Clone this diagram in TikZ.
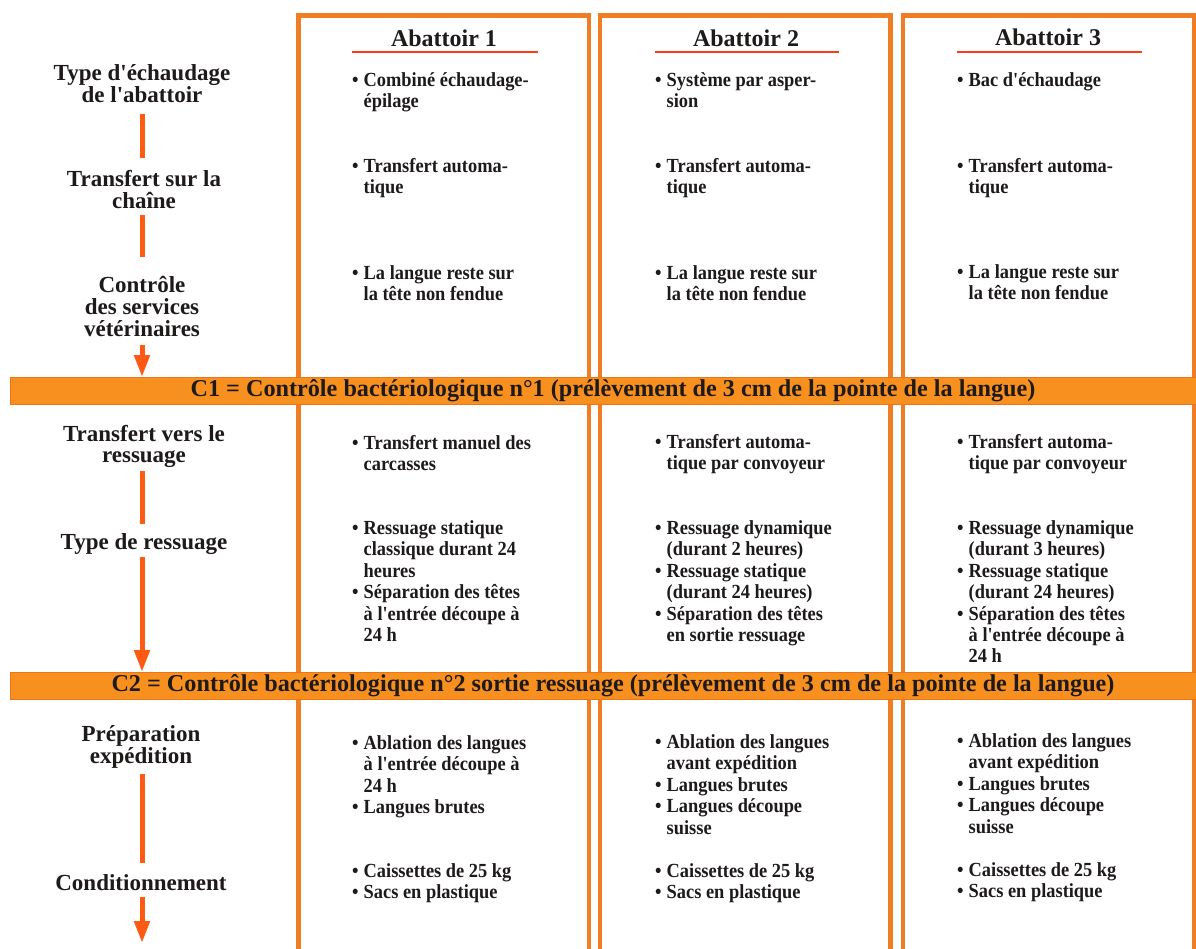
\documentclass[tikz,border=0pt]{standalone}
\usepackage{fontspec}
\setmainfont{Liberation Serif}
\newfontfamily\labfont{Liberation Serif}
\newfontfamily\bodyfont[FakeStretch=0.92]{Liberation Serif}
\usetikzlibrary{arrows.meta}
\definecolor{colbox}{HTML}{F07D23}
\definecolor{barfill}{HTML}{F7901E}
\definecolor{bardraw}{HTML}{EC7419}
\definecolor{arrowc}{HTML}{FF5A14}
\definecolor{redline}{HTML}{FF3A14}
\definecolor{ink}{HTML}{1E1A1A}
\newcommand\myb{\makebox[11.5pt][l]{\textbullet}}
\newcommand\myi{\hspace*{11.5pt}}
\newcommand\tb[1]{\begin{tabular}[t]{@{}l@{}}#1\end{tabular}}
\newcommand\tc[1]{\begin{tabular}[t]{@{}c@{}}#1\end{tabular}}
\begin{document}
\begin{tikzpicture}[x=1pt,y=-1pt,
  colframe/.style={draw=colbox,line width=4.5pt},
  hdr/.style={inner sep=0pt,text=ink,font=\labfont\bfseries\fontsize{24}{24}\selectfont},
  uline/.style={draw=redline,line width=2pt},
  body/.style={anchor=base west,inner sep=0pt,text=ink,font=\bodyfont\bfseries\fontsize{20}{21.4}\selectfont},
  lab/.style={anchor=base,inner sep=0pt,text=ink,font=\labfont\bfseries\fontsize{23}{21.5}\selectfont},
  bar/.style={fill=barfill,draw=bardraw,line width=1pt,minimum width=1206pt,minimum height=27pt,inner sep=0pt,text=ink,font=\labfont\bfseries\fontsize{24.2}{24}\selectfont},
  flow/.style={draw=arrowc,line width=5pt},
  flowarrow/.style={flow,-{Triangle[length=22pt,width=15pt]}}]
\useasboundingbox (0,0) rectangle (1196,948);
\clip (0,0) rectangle (1196,948);
\fill[white] (0,0) rectangle (1196,948);
% column frames
\draw[colframe] (298.5,15.5) rectangle (589,990);
\draw[colframe] (600,15.5) rectangle (890.5,990);
\draw[colframe] (903,15.5) rectangle (1194,990);
% headers
\node[hdr] (h1) at (444,38) {Abattoir 1};
\node[hdr] (h2) at (746,38) {Abattoir 2};
\node[hdr] (h3) at (1048,37) {Abattoir 3};
\draw[uline] (352,51.5) -- (538,51.5);
\draw[uline] (655,52) -- (839,52);
\draw[uline] (957,51.5) -- (1142,51.5);
% bars
\node[bar] (c1) at (613,391) {C1 = Contrôle bactériologique n°1 (prélèvement de 3 cm de la pointe de la langue)};
\node[bar] (c2) at (613,686) {C2 = Contrôle bactériologique n°2 sortie ressuage (prélèvement de 3 cm de la pointe de la langue)};
% left labels
\node[lab] (l1) at (142,80) {\tc{Type d'échaudage\\de l'abattoir}};
\node[lab] (l2) at (144,186) {\tc{Transfert sur la\\chaîne}};
\node[lab] (l3) at (142,292) {\tc{Contrôle\\des services\\vétérinaires}};
\node[lab] (l4) at (144,441) {\tc{Transfert vers le\\ressuage}};
\node[lab] (l5) at (144,549) {Type de ressuage};
\node[lab] (l6) at (141,741) {\tc{Préparation\\expédition}};
\node[lab] (l7) at (141,890) {Conditionnement};
\coordinate (end) at (142,943);
% connectors
\draw[flow, shorten <=4.7pt, shorten >=11.3pt] (l1.south -| l3.south) -- (l2.north -| l3.south);
\draw[flow, shorten >=19pt] (l2.south -| l3.south) -- (l3.north);
\draw[flowarrow, shorten <=2pt] (l3.south) -- (l3.south |- c1.north);
\draw[flow, shorten <=2pt, shorten >=9pt] (l4.south -| l3.south) -- (l5.north -| l3.south);
\draw[flowarrow, shorten <=3pt] (l5.south -| l3.south) -- (l3.south |- c2.north);
\draw[flow, shorten <=4pt, shorten >=11pt] (l6.south -| l3.south) -- (l7.north -| l3.south);
\draw[flowarrow, shorten <=7pt] (l7.south -| end) -- (end);
% column 1
\node[body] (a1) at (352,86.5) {\tb{\myb Combiné échaudage-\\\myi épilage}};
\node[body] (a2) at (352,172.5) {\tb{\myb Transfert automa-\\\myi tique}};
\node[body] (a3) at (352,279.5) {\tb{\myb La langue reste sur\\\myi la tête non fendue}};
\node[body] (a4) at (352,449.5) {\tb{\myb Transfert manuel des\\\myi carcasses}};
\node[body] (a5) at (352,534.5) {\tb{\myb Ressuage statique\\\myi classique durant 24\\\myi heures\\\myb Séparation des têtes\\\myi à l'entrée découpe à\\\myi 24 h}};
\node[body] (a6) at (352,749.5) {\tb{\myb Ablation des langues\\\myi à l'entrée découpe à\\\myi 24 h\\\myb Langues brutes}};
\node[body] (a7) at (352,877.5) {\tb{\myb Caissettes de 25 kg\\\myb Sacs en plastique}};
% column 2
\node[body] (b1) at (655,86.5) {\tb{\myb Système par asper-\\\myi sion}};
\node[body] (b2) at (655,172.5) {\tb{\myb Transfert automa-\\\myi tique}};
\node[body] (b3) at (655,279.5) {\tb{\myb La langue reste sur\\\myi la tête non fendue}};
\node[body] (b4) at (655,448.5) {\tb{\myb Transfert automa-\\\myi tique par convoyeur}};
\node[body] (b5) at (655,534.5) {\tb{\myb Ressuage dynamique\\\myi (durant 2 heures)\\\myb Ressuage statique\\\myi (durant 24 heures)\\\myb Séparation des têtes\\\myi en sortie ressuage}};
\node[body] (b6) at (655,748.5) {\tb{\myb Ablation des langues\\\myi avant expédition\\\myb Langues brutes\\\myb Langues découpe\\\myi suisse}};
\node[body] (b7) at (655,877.5) {\tb{\myb Caissettes de 25 kg\\\myb Sacs en plastique}};
% column 3
\node[body] (d1) at (957,86.5) {\tb{\myb Bac d'échaudage}};
\node[body] (d2) at (957,172.5) {\tb{\myb Transfert automa-\\\myi tique}};
\node[body] (d3) at (957,278.5) {\tb{\myb La langue reste sur\\\myi la tête non fendue}};
\node[body] (d4) at (957,448.5) {\tb{\myb Transfert automa-\\\myi tique par convoyeur}};
\node[body] (d5) at (957,534.5) {\tb{\myb Ressuage dynamique\\\myi (durant 3 heures)\\\myb Ressuage statique\\\myi (durant 24 heures)\\\myb Séparation des têtes\\\myi à l'entrée découpe à\\\myi 24 h}};
\node[body] (d6) at (957,747.5) {\tb{\myb Ablation des langues\\\myi avant expédition\\\myb Langues brutes\\\myb Langues découpe\\\myi suisse}};
\node[body] (d7) at (957,876.5) {\tb{\myb Caissettes de 25 kg\\\myb Sacs en plastique}};
\end{tikzpicture}
\end{document}
